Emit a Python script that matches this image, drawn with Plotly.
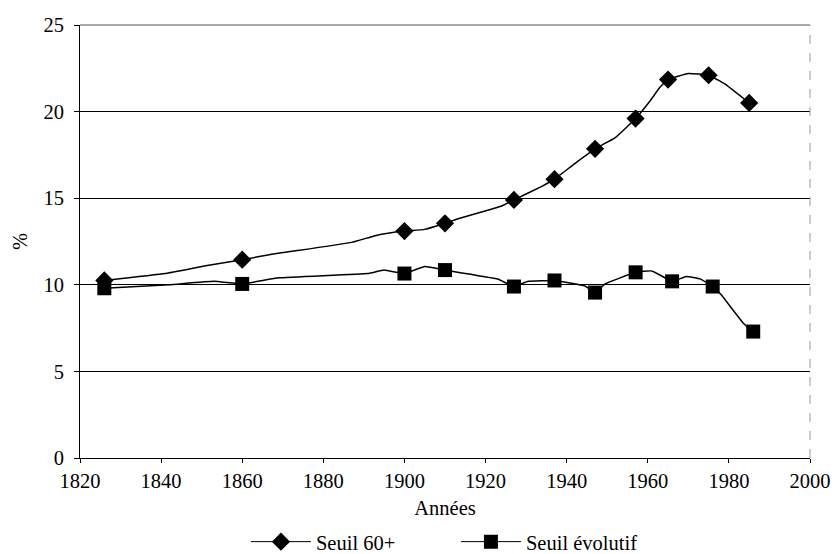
import plotly.graph_objects as go

# Seuil 60+ : smoothed curve points (1 = point carrying a marker)
years_60 = [1826, 1841, 1851, 1860, 1867, 1887, 1893, 1900, 1905, 1910, 1913, 1919, 1924,
            1927, 1934, 1937, 1942, 1947, 1952, 1957, 1960.5, 1963, 1965, 1970, 1975, 1979, 1985]
values_60 = [10.25, 10.65, 11.1, 11.45, 11.75, 12.45, 12.85, 13.1, 13.2, 13.55, 13.8, 14.2, 14.55,
             14.9, 15.7, 16.1, 17.0, 17.85, 18.5, 19.6, 20.6, 21.4, 21.85, 22.2, 22.1, 21.6, 20.5]
marked_60 = [1, 0, 0, 1, 0, 0, 0, 1, 0, 1, 0, 0, 0,
             1, 0, 1, 0, 1, 0, 1, 0, 0, 1, 0, 1, 0, 1]

# Seuil évolutif
years_ev = [1826, 1842, 1853, 1860, 1869, 1891, 1895, 1900, 1905, 1910, 1923, 1927, 1930.5,
            1937, 1944.5, 1947, 1949.5, 1957, 1961, 1966, 1969.5, 1973, 1976, 1978, 1983.5, 1986]
values_ev = [9.8, 10.0, 10.2, 10.05, 10.4, 10.65, 10.85, 10.65, 11.05, 10.85, 10.33, 9.9, 10.2,
             10.25, 9.93, 9.55, 10.05, 10.72, 10.8, 10.2, 10.48, 10.33, 9.9, 9.45, 7.8, 7.3]
marked_ev = [1, 0, 0, 1, 0, 0, 0, 1, 0, 1, 0, 1, 0,
             1, 0, 1, 0, 1, 0, 1, 0, 0, 1, 0, 0, 1]

series_names = ["Seuil 60+", "Seuil évolutif"]
x_ticks = [1820, 1840, 1860, 1880, 1900, 1920, 1940, 1960, 1980, 2000]
y_ticks = [0, 5, 10, 15, 20, 25]

FONT = "Liberation Serif, DejaVu Serif, serif"
FS = 20.5
LINE = dict(color="black", width=1.5, shape="spline", smoothing=0.3)


def pick(vals, flags):
    return [v for v, f in zip(vals, flags) if f]


fig = go.Figure()
specs = [
    (years_60, values_60, marked_60, "diamond", 14),
    (years_ev, values_ev, marked_ev, "square", 14),
]
for (xs, ys, flags, sym, sz), name in zip(specs, series_names):
    fig.add_trace(go.Scatter(x=xs, y=ys, mode="lines", line=LINE, showlegend=False,
                             legendgroup=name, hoverinfo="skip"))
    fig.add_trace(go.Scatter(x=pick(xs, flags), y=pick(ys, flags), mode="markers",
                             marker=dict(symbol=sym, color="black", size=sz, opacity=1,
                                         line=dict(width=0)),
                             showlegend=False, legendgroup=name, name=name))
    fig.add_trace(go.Scatter(x=[None], y=[None], mode="lines+markers", name=name,
                             legendgroup=name,
                             line=dict(color="black", width=1),
                             marker=dict(symbol=sym, color="black", size=sz, opacity=1,
                                         line=dict(width=0))))

fig.add_shape(type="line", xref="paper", yref="paper", x0=1, x1=1, y0=0, y1=1,
              line=dict(color="#999999", width=1, dash="dash"))
fig.add_shape(type="line", xref="paper", yref="paper", x0=0, x1=1, y0=1, y1=1,
              line=dict(color="#555555", width=1))

fig.update_layout(
    width=840, height=554,
    margin=dict(l=80, r=30, t=25, b=96, autoexpand=False),
    paper_bgcolor="white", plot_bgcolor="white",
    font=dict(family=FONT, size=FS, color="black"),
    showlegend=True,
    legend=dict(orientation="h", x=0.515, xanchor="center",
                yref="container", y=0.022, yanchor="middle",
                font=dict(size=FS), itemwidth=60, tracegroupgap=0,
                entrywidth=135, entrywidthmode="pixels"),
    xaxis=dict(range=[1820, 2000], tickvals=x_ticks, showgrid=False, zeroline=False,
               showline=True, linecolor="black", linewidth=1,
               ticks="outside", ticklen=4, tickcolor="black",
               title=dict(text="Années", standoff=10, font=dict(size=FS))),
    yaxis=dict(range=[0, 25], tickvals=y_ticks, showgrid=True, gridcolor="black", gridwidth=1,
               zeroline=False, showline=True, linecolor="black", linewidth=1,
               ticks="outside", ticklen=5, tickcolor="black", ticklabelstandoff=6,
               title=dict(text="%", standoff=10, font=dict(size=FS))),
)

fig.write_html(
    "out.html", config={"displayModeBar": False},
    post_script=("document.body.style.margin='0';"
                 "if (document.fonts) { document.fonts.ready.then(function(){"
                 "Plotly.relayout(document.getElementById('{plot_id}'), {}); }); }"),
)
